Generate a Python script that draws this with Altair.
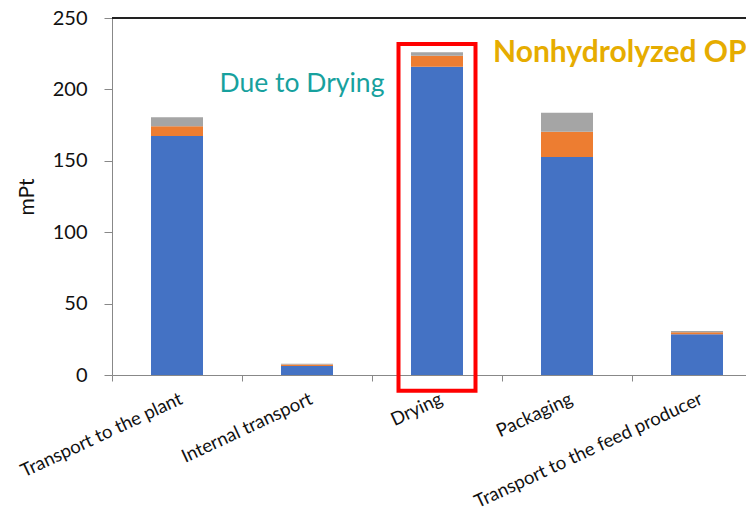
import altair as alt
import pandas as pd

# Process stages and their stacked contributions (mPt)
categories = [
    "Transport to the plant",
    "Internal transport",
    "Drying",
    "Packaging",
    "Transport to the feed producer",
]
series_names = ["Component A", "Component B", "Component C"]
component_a = [167.4, 6.3, 215.9, 152.7, 28.5]
component_b = [6.8, 1.0, 7.7, 17.7, 1.5]
component_c = [6.3, 0.5, 2.4, 13.3, 0.8]
y_ticks = [0, 50, 100, 150, 200, 250]

colors = ["#4472C4", "#ED7D31", "#A5A5A5"]
FONT = "Lato"

rows = []
for i, cat in enumerate(categories):
    for k, vals in enumerate([component_a, component_b, component_c]):
        rows.append({"stage": cat, "series": series_names[k], "order": k, "value": vals[i]})
df = pd.DataFrame(rows)

# Full-width bands so that the axis ticks fall between the stages
x_scale = alt.Scale(domain=categories, range=[0, 650], paddingInner=0, paddingOuter=0)
y_scale = alt.Scale(domain=[0, 250], nice=False, zero=False)

x_axis = alt.Axis(
    title=None,
    labelAngle=-25,
    labelAlign="right",
    labelBaseline="top",
    labelFontSize=18.5,
    labelFont=FONT,
    labelColor="#111111",
    labelPadding=8,
    labelLimit=0,
    tickBand="extent",
    tickSize=6,
    tickColor="#888888",
    domainColor="#888888",
    labelOverlap=False,
)
y_axis = alt.Axis(
    title="mPt",
    values=y_ticks,
    grid=False,
    labelFontSize=20,
    labelFont=FONT,
    labelColor="#111111",
    labelPadding=17,
    tickSize=8,
    tickColor="#888888",
    domainColor="#888888",
    titleFont=FONT,
    titleFontSize=21,
    titleFontWeight="normal",
    titleColor="#111111",
    titlePadding=15,
)

bars = alt.Chart(df).mark_bar(width=52).encode(
    x=alt.X("stage:N", scale=x_scale, axis=x_axis, sort=categories),
    y=alt.Y("sum(value):Q", scale=y_scale, axis=y_axis, stack="zero"),
    color=alt.Color("series:N", scale=alt.Scale(domain=series_names, range=colors), legend=None),
    order=alt.Order("order:Q", sort="ascending"),
)

# Top frame line of the plot area
top_line = alt.Chart(df).mark_rule(color="#222222", strokeWidth=2).encode(
    y=alt.datum(250), x=alt.value(0), x2=alt.value(650)
)

# Highlight box around the Drying stage
highlight = alt.Chart(pd.DataFrame({"stage": ["Drying"], "top": [231.8], "bottom": [-11.0]})).mark_bar(
    filled=False, stroke="#FF0000", strokeWidth=4, width=77
).encode(
    x=alt.X("stage:N", scale=x_scale, sort=categories),
    y=alt.Y("top:Q", scale=y_scale),
    y2="bottom:Q",
)

note = alt.Chart(pd.DataFrame({"stage": ["Internal transport"], "v": [204], "t": ["Due to Drying"]})).mark_text(
    font=FONT, fontSize=26.5, color="#17A19E", align="center", baseline="middle", dx=-5
).encode(x=alt.X("stage:N", scale=x_scale, sort=categories), y=alt.Y("v:Q", scale=y_scale), text="t:N")

# Heading runs past the right edge of the figure
heading = alt.Chart(pd.DataFrame({"stage": ["Packaging"], "v": [225.5], "t": ["Nonhydrolyzed OP"]})).mark_text(
    font=FONT, fontSize=30, fontWeight="bold", color="#E6AC00", align="left", baseline="middle", dx=-74
).encode(x=alt.X("stage:N", scale=x_scale, sort=categories), y=alt.Y("v:Q", scale=y_scale), text="t:N")

chart = (
    alt.layer(bars, top_line, highlight, note, heading)
    .properties(
        width=634,
        height=357,
        autosize=alt.AutoSizeParams(type="none"),
        padding={"left": 112, "top": 18, "right": 0, "bottom": 138},
        background="white",
    )
    .configure_view(stroke=None)
)

chart.save("out.html", embed_options={"renderer": "svg", "actions": False})
